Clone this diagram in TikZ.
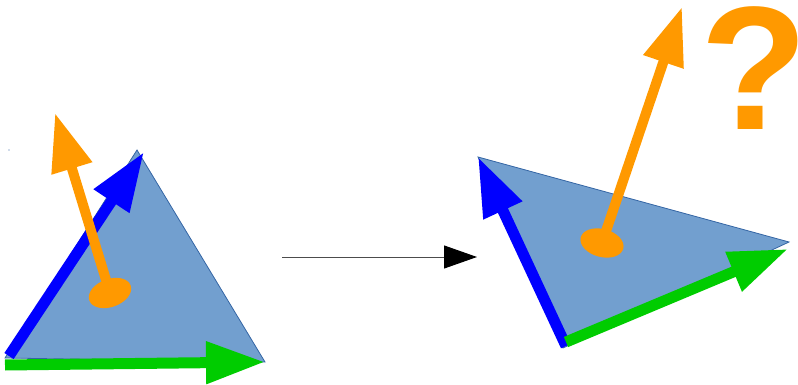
\documentclass[tikz,border=0pt]{standalone}
\usepackage{fontspec}
\usetikzlibrary{arrows.meta}
\newfontfamily\qfont{Liberation Sans}
\definecolor{facefill}{HTML}{729FCF}
\definecolor{faceedge}{HTML}{3465A4}
\definecolor{vecblue}{RGB}{0,0,255}
\definecolor{vecgreen}{RGB}{0,204,0}
\definecolor{vecorange}{RGB}{255,153,0}
\begin{document}
\begin{tikzpicture}[x=1pt, y=-1pt,
    face/.style={fill=facefill, draw=faceedge, line width=0.8pt},
    edgevec/.style={line width=11pt, -{Triangle[length=59pt, width=40pt]}},
    normalvec/.style={vecorange, line width=10pt, -{Triangle[length=58pt, width=40pt]}},
    footdot/.style={fill=vecorange}]
    \useasboundingbox (0,0) rectangle (798,385);

    % Left face
    \coordinate (LA) at (5,358);
    \coordinate (LB) at (137,150);
    \coordinate (LC) at (265,362);
    \fill[faceedge] (9,150) circle (0.7);
    \draw[face] (LA) -- (LB) -- (LC) -- cycle;
    \draw[edgevec, vecblue] (9,356) -- (144,152);
    \draw[edgevec, vecgreen] (5,365) -- (265,362);
    \coordinate (Lfoot) at (110,293);
    \fill[footdot, rotate around={20:(Lfoot)}] (Lfoot) ellipse (22 and 14);
    \draw[normalvec] (Lfoot) -- (55,113);

    % Transformation arrow
    \coordinate (from) at (282,257);
    \coordinate (to) at (477,257);
    \draw[black!70, line width=1pt, -{Triangle[length=33pt, width=23pt, black]}] (from) -- (to);

    % Right face
    \coordinate (RA) at (563,348);
    \coordinate (RB) at (478,157);
    \coordinate (RC) at (789,242);
    \draw[face] (RA) -- (RB) -- (RC) -- cycle;
    \draw[edgevec, vecblue] (566,346) -- (RB);
    \draw[edgevec, vecgreen] (566,342) -- (788,249);
    \coordinate (Rfoot) at (602,243);
    \fill[footdot, rotate around={-15:(Rfoot)}] (Rfoot) ellipse (22 and 14);
    \draw[normalvec] (Rfoot) -- (682,7);

    % Question mark
    \node[text=vecorange, inner sep=0pt, font=\qfont\bfseries\fontsize{176}{176}\selectfont] (qmark) at (754,68) {?};
\end{tikzpicture}
\end{document}
